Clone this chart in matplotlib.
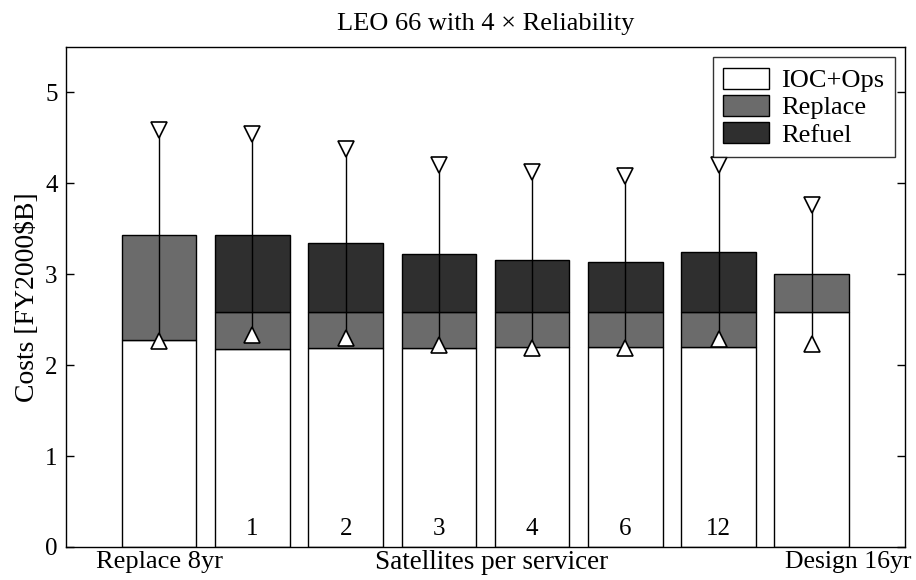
import matplotlib.pyplot as plt
import numpy as np

plt.rcParams['font.family'] = ['Liberation Serif', 'DejaVu Serif']

groups = ["Replace 8yr", "1", "2", "3", "4", "6", "12", "Design 16yr"]
ioc_ops = [2.28, 2.18, 2.19, 2.19, 2.20, 2.20, 2.20, 2.58]
replace = [1.15, 0.40, 0.40, 0.40, 0.39, 0.39, 0.39, 0.42]
refuel = [0.00, 0.85, 0.75, 0.63, 0.57, 0.55, 0.65, 0.00]
err_high = [4.59, 4.54, 4.38, 4.20, 4.12, 4.08, 4.20, 3.76]
err_low = [2.27, 2.33, 2.30, 2.22, 2.19, 2.19, 2.29, 2.23]
servicer_labels = ["1", "2", "3", "4", "6", "12"]

FS = 18

fig = plt.figure(figsize=(9.16, 5.80), dpi=100)
ax = fig.add_axes([0.072, 0.057, 0.916, 0.862])

x = np.arange(1, len(groups) + 1)
w = 0.8
ioc_arr = np.array(ioc_ops)
rep_arr = np.array(replace)
ref_arr = np.array(refuel)

ax.bar(x, ioc_arr, w, color='white', edgecolor='black', linewidth=1.0, label='IOC+Ops')
ax.bar(x, rep_arr, w, bottom=ioc_arr, color='#6b6b6b', edgecolor='black', linewidth=1.0, label='Replace')
mask = ref_arr > 0
ax.bar(x[mask], ref_arr[mask], w, bottom=(ioc_arr + rep_arr)[mask], color='#2f2f2f',
       edgecolor='black', linewidth=1.0, label='Refuel')

# uncertainty ranges
for xi, lo, hi in zip(x, err_low, err_high):
    ax.plot([xi, xi], [lo, hi], color='black', linewidth=1.0, zorder=3)
ax.plot(x, err_high, linestyle='none', marker='v', markersize=11, markerfacecolor='white',
        markeredgecolor='black', markeredgewidth=1.2, zorder=4)
ax.plot(x, err_low, linestyle='none', marker='^', markersize=11, markerfacecolor='white',
        markeredgecolor='black', markeredgewidth=1.2, zorder=4)

ax.set_xlim(0, 9)
ax.set_ylim(0, 5.5)
ax.set_xticks([])
ax.set_yticks([0, 1, 2, 3, 4, 5])
ax.tick_params(axis='y', direction='in', length=6, labelsize=FS, right=True, width=1.0, pad=6)
for s in ax.spines.values():
    s.set_linewidth(1.0)

# servicer counts written inside the plot near the base of each bar
for xi, lab in zip(x[1:7], servicer_labels):
    ax.text(xi, 0.2, lab, ha='center', va='center', fontsize=FS)

ax.text(x[0], -0.17, groups[0], ha='center', va='center', fontsize=FS + 1, clip_on=False)
ax.text(x[1:7].mean() + 0.07, -0.17, "Satellites per servicer", ha='center', va='center',
        fontsize=FS + 1.5, clip_on=False)
ax.text(x[7] + 0.39, -0.17, groups[7], ha='center', va='center', fontsize=FS + 0.5, clip_on=False)

ax.set_ylabel("Costs [FY2000$B]", fontsize=FS + 2, labelpad=4)
ax.set_title("LEO 66 with 4 \u00d7 Reliability", fontsize=FS + 1, pad=12)

leg = ax.legend(loc='upper right', fontsize=FS + 1, frameon=True, fancybox=False,
                edgecolor='black', borderpad=0.4, handlelength=1.75, handleheight=0.85,
                labelspacing=0.1, handletextpad=0.45, borderaxespad=0,
                bbox_to_anchor=(0.988, 0.98))
leg.get_frame().set_linewidth(1.0)

fig.savefig("out.png", dpi=100)
